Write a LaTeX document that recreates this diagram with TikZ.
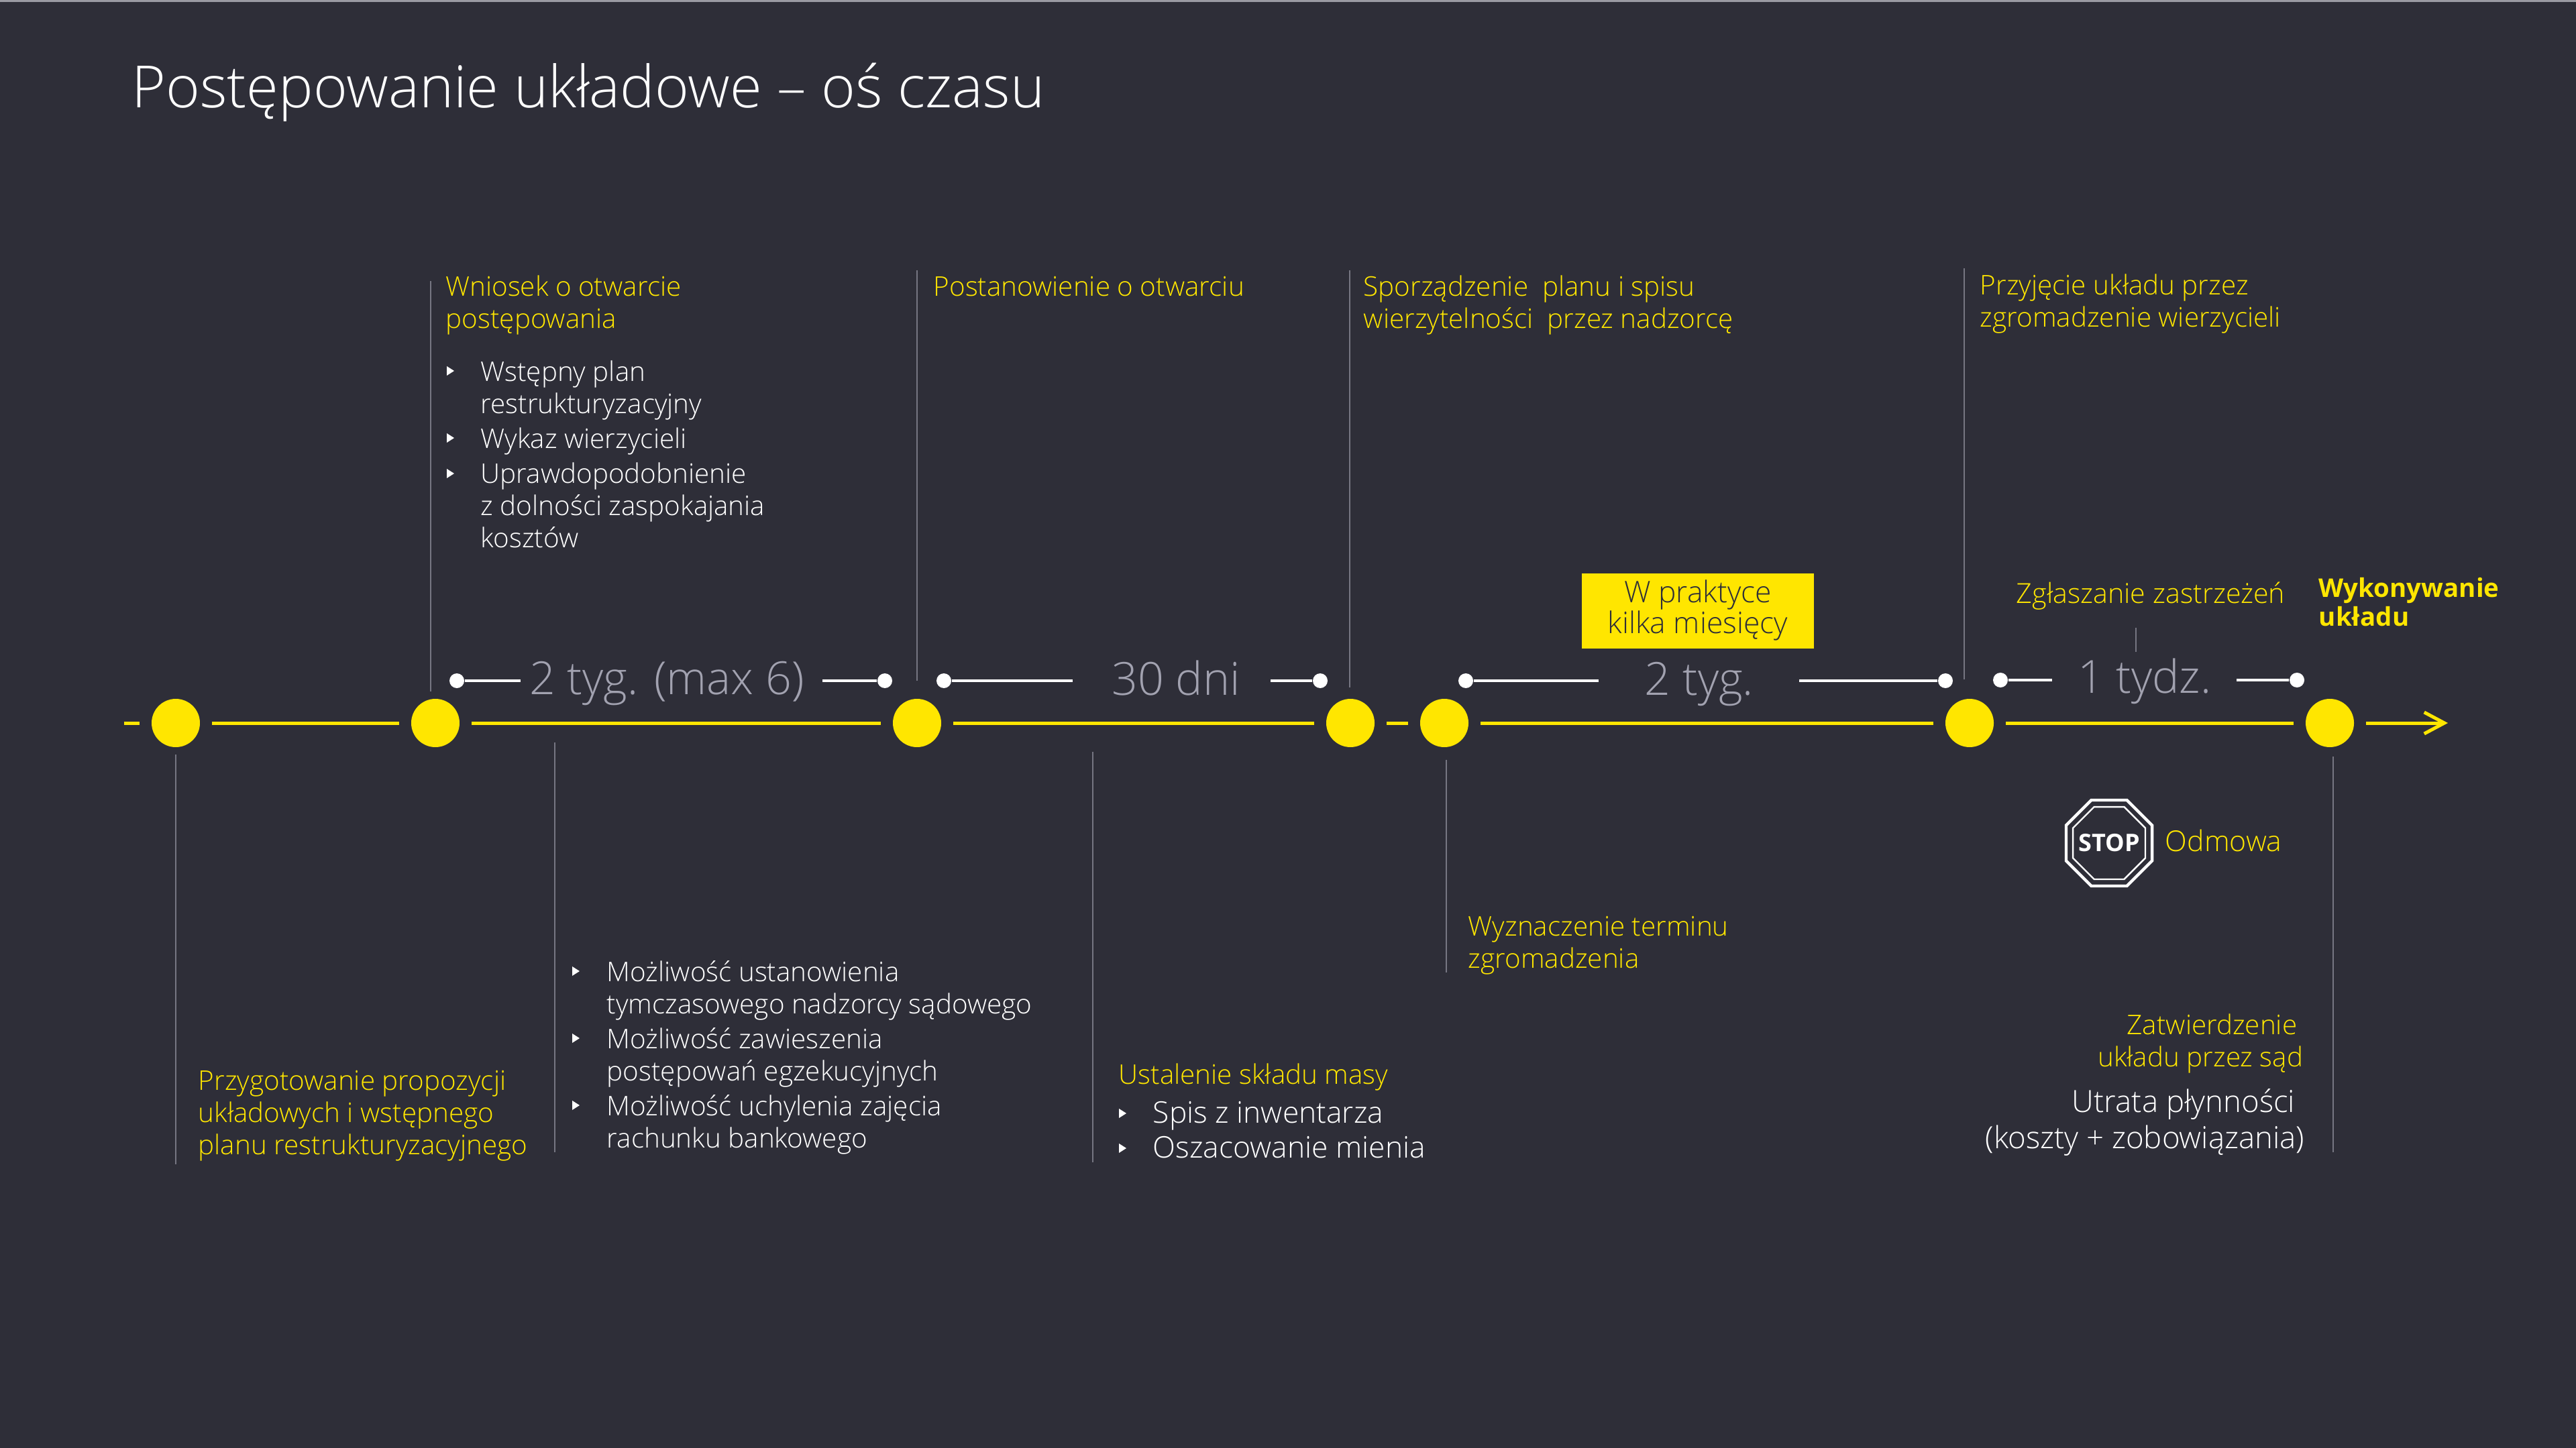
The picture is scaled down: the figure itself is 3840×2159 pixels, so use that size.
\documentclass[tikz,border=0pt]{standalone}
\usepackage{fontspec}
\setmainfont{Open Sans}[UprightFont={* Light}, BoldFont={* Bold}]
\usetikzlibrary{arrows.meta}
\definecolor{bg}{HTML}{2E2E38}
\definecolor{eyy}{HTML}{FFE600}
\definecolor{lgr}{HTML}{767682}
\definecolor{dgr}{HTML}{A2A2B0}
\definecolor{topl}{HTML}{9A9AA2}
\newcommand\fs[2]{\fontsize{#1}{#2}\selectfont}
\newcommand\blk[2][l]{\begin{tabular}[t]{@{}#1@{}}#2\end{tabular}}
\begin{document}
\begin{tikzpicture}[x=0.25pt,y=-0.25pt,
  txt/.style={inner sep=0pt, anchor=base west, font=\fs{10.1}{12}},
  txtr/.style={inner sep=0pt, anchor=base east, font=\fs{10.1}{12}},
  mc/.style={circle, fill=eyy, minimum size=18pt, inner sep=0pt, outer sep=4.5pt},
  yline/.style={draw=eyy, line width=1.25pt},
  dot/.style={circle, fill=white, minimum size=5.5pt, inner sep=0pt},
  wline/.style={draw=white, line width=1pt},
  vline/.style={draw=lgr, line width=0.6pt},
  dur/.style={inner sep=0pt, anchor=base, font=\fs{17}{17}, text=dgr},
  bul/.style={fill=white}]
\fill[bg] (0,0) rectangle (3840,2159);
\useasboundingbox (0,0) rectangle (3840,2159);
\fill[topl] (0,0) rectangle (3840,3);

% title
\node[anchor=base west, inner sep=0pt, font=\fs{21.7}{26}, text=white] (title) at (196,161) {Postępowanie układowe – oś czasu};

% main timeline
\coordinate (start) at (185,1078);
\coordinate (end) at (3649,1078);
\node[mc] (c1) at (262,1078) {};
\node[mc] (c2) at (649,1078) {};
\node[mc] (c3) at (1367,1078) {};
\node[mc] (c4) at (2013,1078) {};
\node[mc] (c5) at (2153,1078) {};
\node[mc] (c6) at (2936,1078) {};
\node[mc] (c7) at (3473,1078) {};
\draw[yline] (start) -- (c1);
\draw[yline] (c1) -- (c2);
\draw[yline] (c2) -- (c3);
\draw[yline] (c3) -- (c4);
\draw[yline] (c4) -- (c5);
\draw[yline] (c5) -- (c6);
\draw[yline] (c6) -- (c7);
\draw[yline, -{Straight Barb[length=7.5pt, width=8pt]}] (c7) -- (end);

% duration brackets
\node[dot] (b1l) at (681,1015) {};
\node[dot] (b1r) at (1319,1015) {};
\coordinate (b1a) at (776,1015); \coordinate (b1b) at (1226,1015);
\draw[wline] (b1l) -- (b1a); \draw[wline] (b1b) -- (b1r);
\node[dur] (d1) at (994,1035) {2 tyg. (max 6)};

\node[dot] (b2l) at (1407,1015) {};
\node[dot] (b2r) at (1968,1015) {};
\coordinate (b2a) at (1599,1015); \coordinate (b2b) at (1894,1015);
\draw[wline] (b2l) -- (b2a); \draw[wline] (b2b) -- (b2r);
\node[dur] (d2) at (1753,1036) {30 dni};

\node[dot] (b3l) at (2185,1015) {};
\node[dot] (b3r) at (2900,1015) {};
\coordinate (b3a) at (2383,1015); \coordinate (b3b) at (2682,1015);
\draw[wline] (b3l) -- (b3a); \draw[wline] (b3b) -- (b3r);
\node[dur] (d3) at (2533,1036) {2 tyg.};

\node[dot] (b4l) at (2982,1014) {};
\node[dot] (b4r) at (3424,1014) {};
\coordinate (b4a) at (3059,1014); \coordinate (b4b) at (3334,1014);
\draw[wline] (b4l) -- (b4a); \draw[wline] (b4b) -- (b4r);
\node[dur] (d4) at (3197,1033) {1 tydz.};
\draw[vline] (3184,936) -- (3184,972);

% vertical leader lines (upper)
\draw[vline] (642,419) -- (642,1031);
\draw[vline] (1367,403) -- (1367,1015);
\draw[vline] (2012,403) -- (2012,1025);
\draw[vline] (2928,400) -- (2928,1013);
% vertical leader lines (lower)
\draw[vline] (262,1125) -- (262,1736);
\draw[vline] (827,1107) -- (827,1718);
\draw[vline] (1629,1121) -- (1629,1733);
\draw[vline] (2156,1133) -- (2156,1450);
\draw[vline] (3478,1128) -- (3478,1718);

% upper texts
\node[txt, text=eyy] (u1) at (664,442) {\blk{Wniosek o otwarcie\\postępowania}};
\node[txt, text=white] (u1b) at (716,569) {\blk{Wstępny plan\\restrukturyzacyjny\\[1pt]Wykaz wierzycieli\\[1pt]Uprawdopodobnienie\\z dolności zaspokajania\\kosztów}};
\fill[bul] (666,546) -- (666,560) -- (677,553) -- cycle;
\fill[bul] (666,646) -- (666,660) -- (677,653) -- cycle;
\fill[bul] (666,699) -- (666,713) -- (677,706) -- cycle;

\node[txt, text=eyy] (u2) at (1391,442) {Postanowienie o otwarciu};
\node[txt, text=eyy] (u3) at (2032,442) {\blk{Sporządzenie\ \ planu i spisu\\wierzytelności\ \ przez nadzorcę}};
\node[txt, text=eyy] (u4) at (2951,440) {\blk{Przyjęcie układu przez\\zgromadzenie wierzycieli}};

\node[fill=eyy, text=bg, minimum width=86.5pt, minimum height=28pt, inner sep=0pt, font=\fs{11.1}{10.25}] (box) at (2531,911) {\blk[c]{W praktyce\\kilka miesięcy}};

\node[txt, text=eyy, font=\fs{10.3}{12}] (zgl) at (3005,899) {Zgłaszanie zastrzeżeń};
\node[txt, text=eyy, font=\bfseries\fs{9.6}{10.75}] (wyk) at (3456,890) {\blk{Wykonywanie\\układu}};

% lower texts
\node[txt, text=eyy] (l1) at (295,1625) {\blk{Przygotowanie propozycji\\układowych i wstępnego\\planu restrukturyzacyjnego}};
\node[txt, text=white] (l2) at (904,1463) {\blk{Możliwość ustanowienia\\tymczasowego nadzorcy sądowego\\[1pt]Możliwość zawieszenia\\postępowań egzekucyjnych\\[1pt]Możliwość uchylenia zajęcia\\rachunku bankowego}};
\fill[bul] (853,1441) -- (853,1455) -- (864,1448) -- cycle;
\fill[bul] (853,1541) -- (853,1555) -- (864,1548) -- cycle;
\fill[bul] (853,1641) -- (853,1655) -- (864,1648) -- cycle;

\node[txt, text=eyy] (l3) at (1667,1616) {Ustalenie składu masy};
\node[txt, text=white, font=\fs{11.1}{13}] (l3b) at (1718,1674) {\blk{Spis z inwentarza\\Oszacowanie mienia}};
\fill[bul] (1668,1653) -- (1668,1667) -- (1679,1660) -- cycle;
\fill[bul] (1668,1705) -- (1668,1719) -- (1679,1712) -- cycle;

\node[txt, text=eyy] (l4) at (2188,1395) {\blk{Wyznaczenie terminu\\zgromadzenia}};

% stop sign
\coordinate (sc) at (3144,1257);
\draw[white, line width=1.1pt, shift={(sc)}] (22.5:69.3) -- (67.5:69.3) -- (112.5:69.3) -- (157.5:69.3) -- (202.5:69.3) -- (247.5:69.3) -- (292.5:69.3) -- (337.5:69.3) -- cycle;
\draw[white, line width=0.6pt, shift={(sc)}] (22.5:58.4) -- (67.5:58.4) -- (112.5:58.4) -- (157.5:58.4) -- (202.5:58.4) -- (247.5:58.4) -- (292.5:58.4) -- (337.5:58.4) -- cycle;
\node[anchor=base, inner sep=0pt, font=\bfseries\fs{9}{9}, text=white] (stop) at (3144,1269) {STOP};
\node[txt, text=eyy, font=\fs{10.7}{12}] (odm) at (3227,1269) {Odmowa};

\node[txtr, text=eyy] (zat) at (3434,1542) {\blk[r]{Zatwierdzenie\kern2.25pt\\układu przez sąd}};
\node[txtr, text=white, font=\fs{11.4}{13.5}] (utr) at (3436,1658) {\blk[r]{Utrata płynności\kern3.5pt\\(koszty + zobowiązania)}};
\end{tikzpicture}
\end{document}
